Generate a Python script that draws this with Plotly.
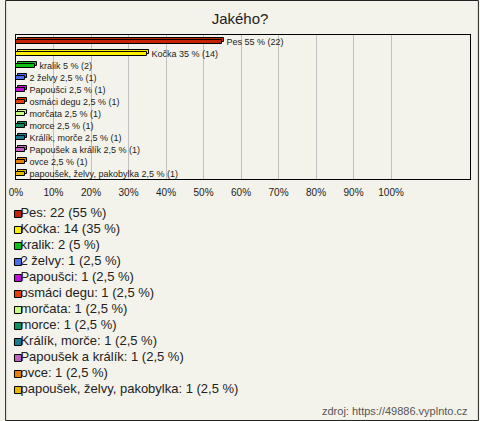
"""Survey answer bar chart: Jakého? (which pet)."""

import plotly.graph_objects as go

categories = [
    "Pes", "Kočka", "kralik", "2 želvy", "Papoušci", "osmáci degu",
    "morčata", "morce", "Králík, morče", "Papoušek a králík", "ovce",
    "papoušek, želvy, pakobylka",
]
counts = [22, 14, 2, 1, 1, 1, 1, 1, 1, 1, 1, 1]
percents = [55, 35, 5, 2.5, 2.5, 2.5, 2.5, 2.5, 2.5, 2.5, 2.5, 2.5]
colors = [
    "#c42206", "#ffee00", "#10c010", "#4a6cf0", "#c010d8", "#e83c08",
    "#c8ff80", "#109060", "#187c90", "#c060c0", "#e88008", "#e8b800",
]
tick_vals = [0, 10, 20, 30, 40, 50, 60, 70, 80, 90, 100]
tick_text = [f"{v}%" for v in tick_vals]

W, H = 480, 421
ML, MR, MT, MB = 11, 9, 35, 20
plot_w = W - ML - MR
plot_h = H - MT - MB


def pct(p):
    return f"{p:g}".replace(".", ",")


rows = list(range(len(categories)))
bar_labels = [f"\u00a0\u00a0{c} {pct(p)} % ({n})" for c, p, n in zip(categories, percents, counts)]
legend_labels = [f"{c}: {n} ({pct(p)} %)" for c, p, n in zip(categories, percents, counts)]

fig = go.Figure()

# back face of the pseudo-3D bar (shifted up and right)
fig.add_trace(go.Bar(
    y=[r - 0.1 for r in rows], x=percents, base=0.5,
    orientation="h", width=0.36,
    marker=dict(color=colors, line=dict(color="black", width=1)),
    hoverinfo="skip", showlegend=False,
))
# front face
fig.add_trace(go.Bar(
    y=[r + 0.06 for r in rows], x=percents,
    orientation="h", width=0.36,
    marker=dict(color=colors, line=dict(color="black", width=1)),
    text=bar_labels, textposition="outside", cliponaxis=False,
    constraintext="none",
    textfont=dict(size=9, color="#222222", family="Arial, Liberation Sans"),
    hoverinfo="skip", showlegend=False,
))

# hand-made legend below the chart: swatches, then labels
fig.add_trace(go.Scatter(
    x=[2] * len(categories), y=rows,
    mode="markers", xaxis="x2", yaxis="y2",
    marker=dict(symbol="square", size=7, color=colors, line=dict(color="black", width=1)),
    hoverinfo="skip", showlegend=False, cliponaxis=False,
))
fig.add_trace(go.Scatter(
    x=[4.5] * len(categories), y=rows,
    mode="text", xaxis="x2", yaxis="y2",
    text=legend_labels, textposition="middle right",
    textfont=dict(size=13, color="#222222", family="Arial, Liberation Sans"),
    hoverinfo="skip", showlegend=False, cliponaxis=False,
))

main_bottom = 179
leg_top, leg_bottom = 206, 398

fig.update_layout(
    width=W, height=H,
    paper_bgcolor="#f4f3eb",
    plot_bgcolor="#f4f3eb",
    margin=dict(l=ML, r=MR, t=MT, b=MB),
    barmode="overlay",
    bargap=0,
    font=dict(family="Arial, Liberation Sans", color="#222222"),
    title=dict(text="Jakého?", x=0.5, xanchor="center", y=1 - 19 / H, yanchor="middle",
               font=dict(size=15, color="#222222")),
    xaxis=dict(
        range=[0, plot_w / 3.8], tickvals=tick_vals, ticktext=tick_text,
        showgrid=True, gridcolor="#c0c0c0", gridwidth=1,
        showline=True, linecolor="black", linewidth=1, mirror=True,
        zeroline=False, ticks="", tickfont=dict(size=10, color="#222222"),
        ticklabelstandoff=4,
        anchor="y", fixedrange=True,
    ),
    yaxis=dict(
        range=[len(categories) - 0.5, -0.5],
        domain=[(H - MB - main_bottom) / plot_h, 1],
        showticklabels=False, showgrid=False, zeroline=False,
        showline=True, linecolor="black", linewidth=1, mirror=True,
        anchor="x", fixedrange=True,
    ),
    xaxis2=dict(range=[0, plot_w], domain=[0, 1], anchor="y2", visible=False),
    yaxis2=dict(
        range=[len(categories) - 0.5, -0.5],
        domain=[(H - MB - leg_bottom) / plot_h, (H - MB - leg_top) / plot_h],
        anchor="x2", visible=False,
    ),
    shapes=[dict(
        type="rect", xref="paper", yref="paper",
        x0=-(ML - 0.5) / plot_w, x1=1 + (MR - 0.5) / plot_w,
        y0=-(MB - 0.5) / plot_h, y1=1 + (MT - 0.5) / plot_h,
        line=dict(color="#222222", width=1), layer="above",
    )],
    annotations=[dict(
        text="zdroj: https://49886.vyplnto.cz", xref="paper", yref="paper",
        x=1, y=-(MB - 10) / plot_h, xanchor="right", yanchor="middle",
        showarrow=False, font=dict(size=11, color="#555555"),
    )],
)

fig.write_html(
    "out.html",
    config=dict(displayModeBar=False),
    post_script="document.body.style.margin='0';",
)
